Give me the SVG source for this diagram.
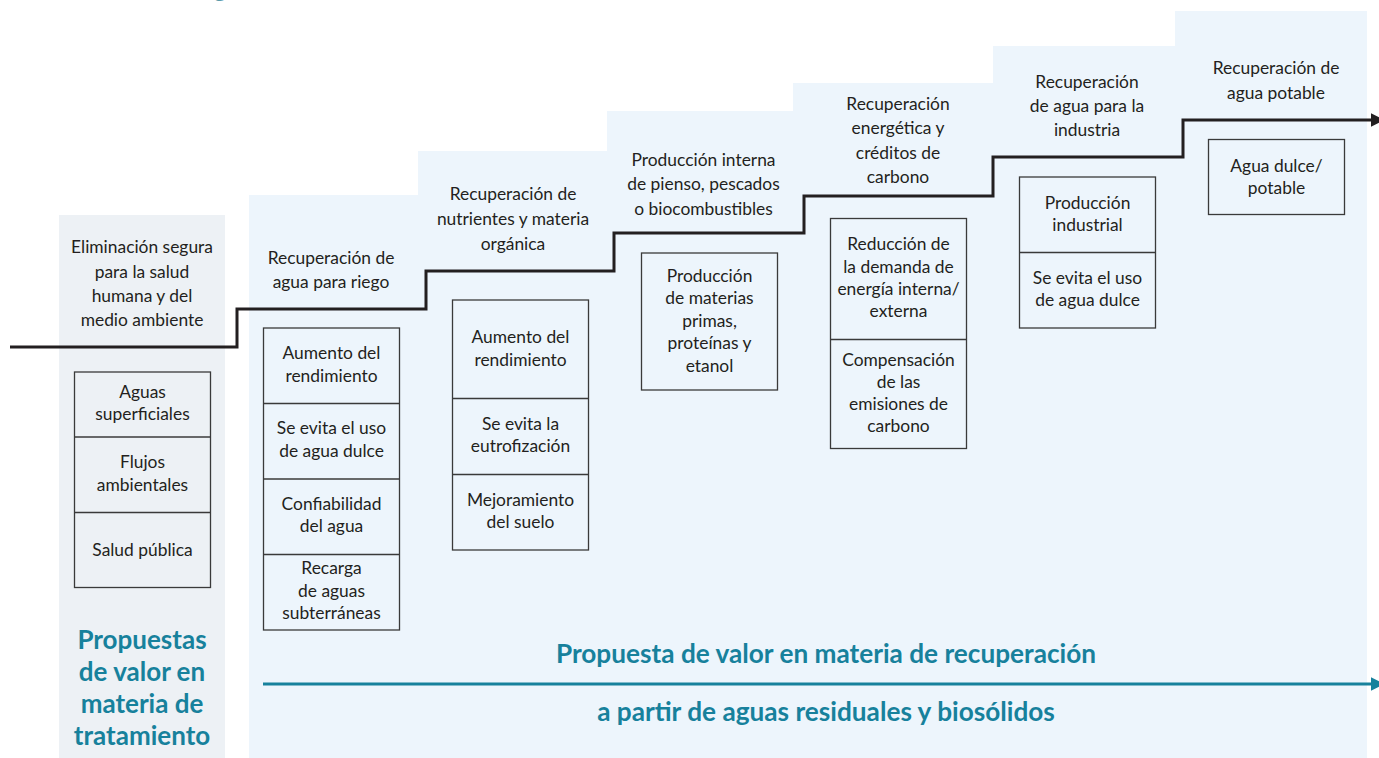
<svg xmlns="http://www.w3.org/2000/svg" width="1379" height="758" viewBox="0 0 1379 758">
<defs>
<style>
.t{font-family:Lato,"Liberation Sans",sans-serif;font-size:17.4px;fill:#231f20;text-anchor:middle}
.box{fill:none;stroke:#3a3a3a;stroke-width:1.3}
.div{stroke:#3a3a3a;stroke-width:1.3}
.bt{font-family:Lato,"Liberation Sans",sans-serif;font-weight:bold;fill:#17819c;text-anchor:middle}
</style>
<marker id="ab" viewBox="0 0 10 10" refX="1" refY="5" markerWidth="4.6" markerHeight="4.6" orient="auto" markerUnits="strokeWidth"><path d="M0,0 L10,5 L0,10 z" fill="#231f20"/></marker>
<marker id="at" viewBox="0 0 10 10" refX="1" refY="5" markerWidth="4.6" markerHeight="4.6" orient="auto" markerUnits="strokeWidth"><path d="M0,0 L10,5 L0,10 z" fill="#17819c"/></marker>
</defs>
<rect width="1379" height="758" fill="#ffffff"/>
<text x="220" y="-4" font-family="Lato,'Liberation Sans',sans-serif" font-size="28" fill="#5b9bab" text-anchor="middle">g</text>
<g id="backgrounds">
<rect x="59" y="215" width="166" height="543" fill="#edf1f5"/>
<polygon points="249,758 249,195 418,195 418,151 607,151 607,111 793,111 793,83 993,83 993,46 1175,46 1175,11 1367,11 1367,758" fill="#edf5fc"/>
</g>
<g id="connectors">
<polyline points="10,347 237,347 237,309 426,309 426,271 614,271 614,233 804,233 804,196 993,196 993,157 1183,157 1183,120 1372,120" fill="none" stroke="#231f20" stroke-width="3" marker-end="url(#ab)"/>
<line x1="263" y1="684" x2="1372" y2="684" stroke="#17819c" stroke-width="3" marker-end="url(#at)"/>
</g>
<g id="step1">
<text class="t"><tspan x="142" y="253">Eliminación segura</tspan><tspan x="142" y="277.5">para la salud</tspan><tspan x="142" y="301.5">humana y del</tspan><tspan x="142" y="325.5">medio ambiente</tspan></text>
<rect class="box" x="74.5" y="372" width="136" height="215.5"/>
<line class="div" x1="74.5" y1="437" x2="210.5" y2="437"/>
<line class="div" x1="74.5" y1="512.5" x2="210.5" y2="512.5"/>
<text class="t"><tspan x="142.5" y="397.5">Aguas</tspan><tspan x="142.5" y="420">superficiales</tspan></text>
<text class="t"><tspan x="142.5" y="468">Flujos</tspan><tspan x="142.5" y="490.5">ambientales</tspan></text>
<text class="t"><tspan x="142.5" y="555.5">Salud pública</tspan></text>
</g>
<g id="step2">
<text class="t"><tspan x="331" y="264">Recuperación de</tspan><tspan x="331" y="288">agua para riego</tspan></text>
<rect class="box" x="263.5" y="328" width="136" height="302"/>
<line class="div" x1="263.5" y1="403.5" x2="399.5" y2="403.5"/>
<line class="div" x1="263.5" y1="479" x2="399.5" y2="479"/>
<line class="div" x1="263.5" y1="554.5" x2="399.5" y2="554.5"/>
<text class="t"><tspan x="331.5" y="359">Aumento del</tspan><tspan x="331.5" y="381.5">rendimiento</tspan></text>
<text class="t"><tspan x="331.5" y="434">Se evita el uso</tspan><tspan x="331.5" y="456.5">de agua dulce</tspan></text>
<text class="t"><tspan x="331.5" y="510">Confiabilidad</tspan><tspan x="331.5" y="532">del agua</tspan></text>
<text class="t"><tspan x="331.5" y="573.5">Recarga</tspan><tspan x="331.5" y="596.5">de aguas</tspan><tspan x="331.5" y="619">subterráneas</tspan></text>
</g>
<g id="step3">
<text class="t"><tspan x="513" y="200">Recuperación de</tspan><tspan x="513" y="225">nutrientes y materia</tspan><tspan x="513" y="250">orgánica</tspan></text>
<rect class="box" x="452.5" y="300" width="136" height="250"/>
<line class="div" x1="452.5" y1="398.5" x2="588.5" y2="398.5"/>
<line class="div" x1="452.5" y1="474.5" x2="588.5" y2="474.5"/>
<text class="t"><tspan x="520.5" y="342.5">Aumento del</tspan><tspan x="520.5" y="365.5">rendimiento</tspan></text>
<text class="t"><tspan x="520.5" y="430">Se evita la</tspan><tspan x="520.5" y="452">eutrofización</tspan></text>
<text class="t"><tspan x="520.5" y="505.5">Mejoramiento</tspan><tspan x="520.5" y="528">del suelo</tspan></text>
</g>
<g id="step4">
<text class="t"><tspan x="703.5" y="166">Producción interna</tspan><tspan x="703.5" y="190">de pienso, pescados</tspan><tspan x="703.5" y="214.5">o biocombustibles</tspan></text>
<rect class="box" x="641.5" y="253" width="136" height="137"/>
<text class="t"><tspan x="709.5" y="281.5">Producción</tspan><tspan x="709.5" y="304">de materias</tspan><tspan x="709.5" y="326.5">primas,</tspan><tspan x="709.5" y="349">proteínas y</tspan><tspan x="709.5" y="371.5">etanol</tspan></text>
</g>
<g id="step5">
<text class="t"><tspan x="898" y="110">Recuperación</tspan><tspan x="898" y="134">energética y</tspan><tspan x="898" y="158.5">créditos de</tspan><tspan x="898" y="182.5">carbono</tspan></text>
<rect class="box" x="830.5" y="218.5" width="136" height="230"/>
<line class="div" x1="830.5" y1="339.5" x2="966.5" y2="339.5"/>
<text class="t"><tspan x="898.5" y="250">Reducción de</tspan><tspan x="898.5" y="272.5">la demanda de</tspan><tspan x="898.5" y="295">energía interna/</tspan><tspan x="898.5" y="317">externa</tspan></text>
<text class="t"><tspan x="898.5" y="365.5">Compensación</tspan><tspan x="898.5" y="387.5">de las</tspan><tspan x="898.5" y="410">emisiones de</tspan><tspan x="898.5" y="432">carbono</tspan></text>
</g>
<g id="step6">
<text class="t"><tspan x="1087" y="87.5">Recuperación</tspan><tspan x="1087" y="111.5">de agua para la</tspan><tspan x="1087" y="136">industria</tspan></text>
<rect class="box" x="1019.5" y="177" width="136" height="151"/>
<line class="div" x1="1019.5" y1="252.5" x2="1155.5" y2="252.5"/>
<text class="t"><tspan x="1087.5" y="208.5">Producción</tspan><tspan x="1087.5" y="231">industrial</tspan></text>
<text class="t"><tspan x="1087.5" y="284">Se evita el uso</tspan><tspan x="1087.5" y="306">de agua dulce</tspan></text>
</g>
<g id="step7">
<text class="t"><tspan x="1276" y="74">Recuperación de</tspan><tspan x="1276" y="99">agua potable</tspan></text>
<rect class="box" x="1208.5" y="139.5" width="136" height="75"/>
<text class="t"><tspan x="1276.5" y="172">Agua dulce/</tspan><tspan x="1276.5" y="193.5">potable</tspan></text>
</g>
<g id="labels">
<text class="bt" font-size="26"><tspan x="142" y="649">Propuestas</tspan><tspan x="142" y="681">de valor en</tspan><tspan x="142" y="713">materia de</tspan><tspan x="142" y="745">tratamiento</tspan></text>
<text class="bt" font-size="26.2"><tspan x="826" y="662.5">Propuesta de valor en materia de recuperación</tspan><tspan x="826" y="721">a partir de aguas residuales y biosólidos</tspan></text>
</g>
</svg>
